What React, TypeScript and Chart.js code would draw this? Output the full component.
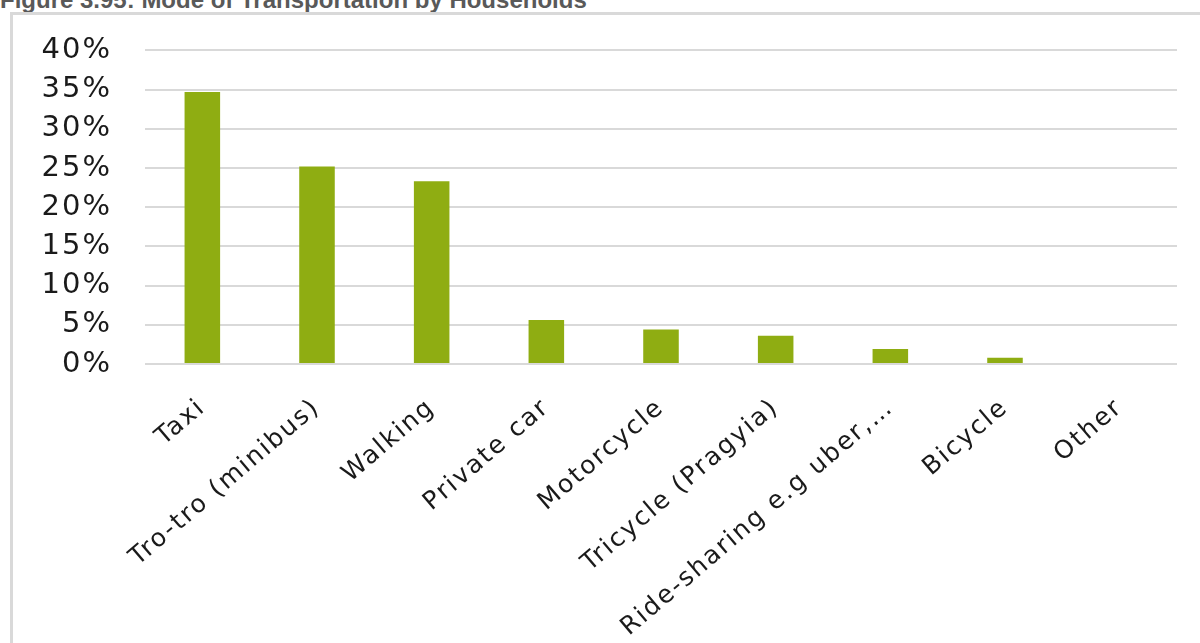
import React, { useEffect, useRef } from "react";
import { Chart, registerables } from "chart.js";

Chart.register(...registerables);

const categories = [
  "Taxi",
  "Tro-tro (minibus)",
  "Walking",
  "Private car",
  "Motorcycle",
  "Tricycle (Pragyia)",
  "Ride-sharing e.g uber,…",
  "Bicycle",
  "Other",
];
const shares = [34.7, 25.2, 23.3, 5.6, 4.4, 3.6, 1.9, 0.8, 0];
const yMin = 0;
const yMax = 40;
const yStep = 5;
const title = "Figure 3.95: Mode of Transportation by Households";

const FONT = "DejaVu Sans";

const spacingPlugin = {
  id: "letterSpacing",
  beforeUpdate(chart: any) {
    chart.ctx.letterSpacing = "2px";
  },
  beforeDraw(chart: any) {
    chart.ctx.letterSpacing = "2px";
  },
};

export default function App() {
  const ref = useRef<HTMLCanvasElement | null>(null);

  useEffect(() => {
    if (!ref.current) return;
    const chart = new Chart(ref.current, {
      type: "bar",
      data: {
        labels: categories,
        datasets: [
          {
            data: shares,
            backgroundColor: "#8FAD12",
            borderWidth: 0,
            barPercentage: 0.31,
            categoryPercentage: 1,
          },
        ],
      },
      plugins: [spacingPlugin],
      options: {
        responsive: false,
        animation: false,
        devicePixelRatio: 1,
        layout: { padding: { left: 0, right: 23, top: 47, bottom: 0 } },
        plugins: {
          legend: { display: false },
          tooltip: { enabled: false },
          title: { display: false },
        },
        scales: {
          y: {
            min: yMin,
            max: yMax,
            ticks: {
              stepSize: yStep,
              callback: (v: any) => v + "%",
              font: { family: FONT, size: 29 },
              color: "#1a1a1a",
              padding: 33,
            },
            grid: { color: "#d9d9d9", lineWidth: 2, drawTicks: false },
            border: { display: false },
            afterFit: (s: any) => {
              s.width = 145;
            },
          },
          x: {
            ticks: {
              minRotation: 40.5,
              maxRotation: 40.5,
              autoSkip: false,
              font: { family: FONT, size: 25 },
              color: "#1a1a1a",
              padding: 29,
            },
            grid: { display: false, drawTicks: false },
            border: { display: false },
            afterFit: (s: any) => {
              s.height = 279;
            },
          },
        },
      },
    });
    return () => chart.destroy();
  }, []);

  return (
    <div
      style={{
        position: "absolute",
        left: 0,
        top: 0,
        width: 1200,
        height: 643,
        overflow: "hidden",
        background: "#fff",
      }}
    >
      <div
        style={{
          position: "absolute",
          left: 0,
          top: -12,
          font: 'bold 24px "Liberation Sans"',
          lineHeight: "24px",
          color: "#595959",
          whiteSpace: "nowrap",
        }}
      >
        {title}
      </div>
      <div
        style={{
          position: "absolute",
          left: 10,
          top: 12,
          width: 1260,
          height: 700,
          border: "3px solid #d9d9d9",
          boxSizing: "border-box",
        }}
      />
      <canvas
        ref={ref}
        width={1200}
        height={643}
        style={{ position: "absolute", left: 0, top: 0, display: "block" }}
      />
    </div>
  );
}
